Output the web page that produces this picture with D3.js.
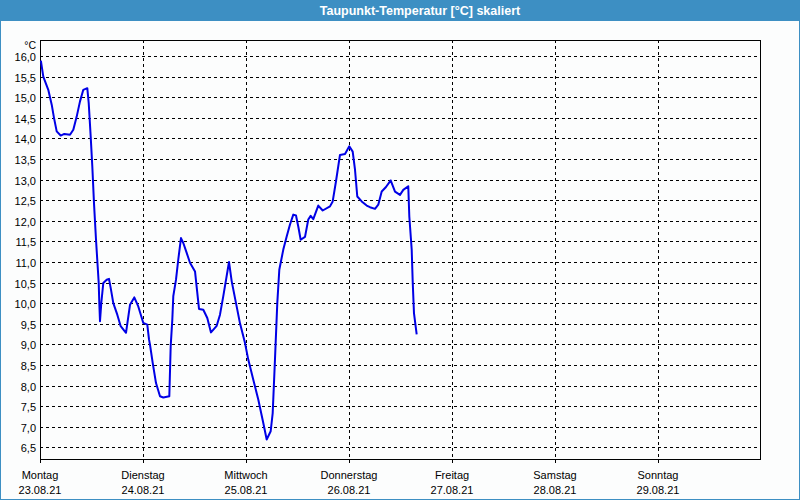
<!DOCTYPE html>
<html><head><meta charset="utf-8">
<script src="https://cdn.jsdelivr.net/npm/d3@7"></script>
<style>
html,body{margin:0;padding:0;background:#fcfdfd;}
svg{display:block;}
text{font-family:"Liberation Sans",Arial,sans-serif;}
</style></head>
<body><svg id="c" width="800" height="500"></svg>
<script>
const title = "Taupunkt-Temperatur [°C] skaliert";
const unit = "°C";
const dayNames = ["Montag","Dienstag","Mittwoch","Donnerstag","Freitag","Samstag","Sonntag"];
const dayDates = ["23.08.21","24.08.21","25.08.21","26.08.21","27.08.21","28.08.21","29.08.21"];
const yTicks = [6.5,7.0,7.5,8.0,8.5,9.0,9.5,10.0,10.5,11.0,11.5,12.0,12.5,13.0,13.5,14.0,14.5,15.0,15.5,16.0];
// hours since Monday 23.08.21 00:00
const hours = [0.2,0.77,1.93,2.73,3.26,3.89,4.82,5.66,6.99,7.76,8.55,9.32,10.09,11.02,11.35,11.81,12.19,12.58,13.05,13.44,13.68,13.82,13.98,14.28,14.75,15.54,16.08,16.54,17.08,18.01,18.8,20.04,20.97,21.97,22.9,24.07,25.0,25.4,25.63,26.26,27.03,27.96,28.73,30.13,30.45,30.83,31.06,31.69,32.22,32.85,33.39,34.18,34.95,36.12,37.05,38.05,38.98,39.84,41.17,41.94,42.71,44.04,44.67,45.67,46.6,47.77,48.53,49.7,50.86,52.03,52.82,53.75,54.22,54.75,55.29,55.76,56.69,57.48,58.25,59.02,59.65,60.18,60.74,61.75,62.51,63.07,63.68,64.84,65.87,67.57,68.2,68.97,69.9,71.07,72.07,72.86,73.4,73.93,74.96,76.12,76.89,78.06,78.82,79.62,80.62,81.71,82.72,83.88,84.65,85.81,86.05,86.61,86.84,87.14,87.77];
const dewpoint = [15.89,15.5,15.18,14.82,14.5,14.17,14.07,14.11,14.09,14.21,14.53,14.9,15.18,15.22,14.86,14.05,13.32,12.43,11.54,10.89,10.49,10.0,9.56,10.0,10.49,10.57,10.59,10.33,10.0,9.72,9.44,9.28,9.96,10.14,9.92,9.52,9.48,9.12,8.99,8.55,8.06,7.74,7.71,7.74,8.95,9.6,10.17,10.57,11.06,11.58,11.46,11.22,10.98,10.77,9.86,9.84,9.64,9.29,9.45,9.72,10.17,11.0,10.53,10.0,9.51,9.03,8.63,8.14,7.66,7.09,6.69,6.89,7.33,8.63,10.0,10.81,11.3,11.62,11.91,12.15,12.13,11.86,11.54,11.61,12.03,12.12,12.04,12.37,12.25,12.35,12.47,12.96,13.6,13.62,13.81,13.68,13.24,12.59,12.47,12.37,12.33,12.29,12.39,12.71,12.82,12.98,12.71,12.63,12.75,12.84,12.11,11.3,10.53,9.76,9.24];

const svg = d3.select("#c");
const W = 800, H = 500;
// title bar
svg.append("rect").attr("x",0).attr("y",0).attr("width",W).attr("height",21).attr("fill","#3d8fc3");
svg.append("text").attr("x",420).attr("y",14.5).attr("text-anchor","middle")
  .attr("fill","#ffffff").attr("font-weight","bold").attr("font-size","12.5px").text(title);
// window border
svg.append("rect").attr("x",0.5).attr("y",20.5).attr("width",W-1).attr("height",H-21)
  .attr("fill","none").attr("stroke","#3d8fc3").attr("stroke-width",1);

const L = 40, R = 761, T = 40, B = 459;
const x = d3.scaleLinear().domain([0,168]).range([L,R]);
const y = d3.scaleLinear().domain([6.216,16.39]).range([B,T]);

const g = svg.append("g").attr("shape-rendering","crispEdges");
// horizontal grid
g.selectAll("line.hg").data(yTicks).join("line")
  .attr("x1",L).attr("x2",R).attr("y1",d=>Math.round(y(d))+0.5).attr("y2",d=>Math.round(y(d))+0.5)
  .attr("stroke","#000").attr("stroke-dasharray","3,3");
// vertical grid
const dayIdx = d3.range(dayNames.length);
g.selectAll("line.vg").data(dayIdx.slice(1)).join("line")
  .attr("x1",d=>Math.round(x(d*24))+0.5).attr("x2",d=>Math.round(x(d*24))+0.5)
  .attr("y1",T).attr("y2",B)
  .attr("stroke","#000").attr("stroke-dasharray","3,3");
// frame
g.append("rect").attr("x",L+0.5).attr("y",T+0.5).attr("width",R-L-1).attr("height",B-T)
  .attr("fill","none").attr("stroke","#000");
// bottom ticks
g.selectAll("line.bt").data(dayIdx).join("line")
  .attr("x1",d=>Math.round(x(d*24))+0.5).attr("x2",d=>Math.round(x(d*24))+0.5)
  .attr("y1",B).attr("y2",B+4).attr("stroke","#000");

// y labels
const fmt = d3.format(".1f");
svg.selectAll("text.yl").data(yTicks).join("text")
  .attr("x",36).attr("y",d=>y(d)+5).attr("text-anchor","end")
  .attr("font-size","11px").attr("fill","#000").text(d=>fmt(d).replace(".",","));
svg.append("text").attr("x",36).attr("y",48.5).attr("text-anchor","end")
  .attr("font-size","10.5px").attr("fill","#000").text(unit);

// x labels
svg.selectAll("text.xd").data(dayIdx).join("text")
  .attr("x",d=>x(d*24)).attr("y",479).attr("text-anchor","middle")
  .attr("font-size","11px").attr("fill","#000").text(d=>dayNames[d]);
svg.selectAll("text.xt").data(dayIdx).join("text")
  .attr("x",d=>x(d*24)).attr("y",494).attr("text-anchor","middle")
  .attr("font-size","11px").attr("fill","#000").text(d=>dayDates[d]);

// line
const pts = hours.map((h,i)=>[h,dewpoint[i]]);
svg.append("path").datum(pts)
  .attr("d", d3.line().x(d=>x(d[0])).y(d=>y(d[1])))
  .attr("fill","none").attr("stroke","#0000e6").attr("stroke-width",2)
  .attr("stroke-linejoin","round");
</script></body></html>
